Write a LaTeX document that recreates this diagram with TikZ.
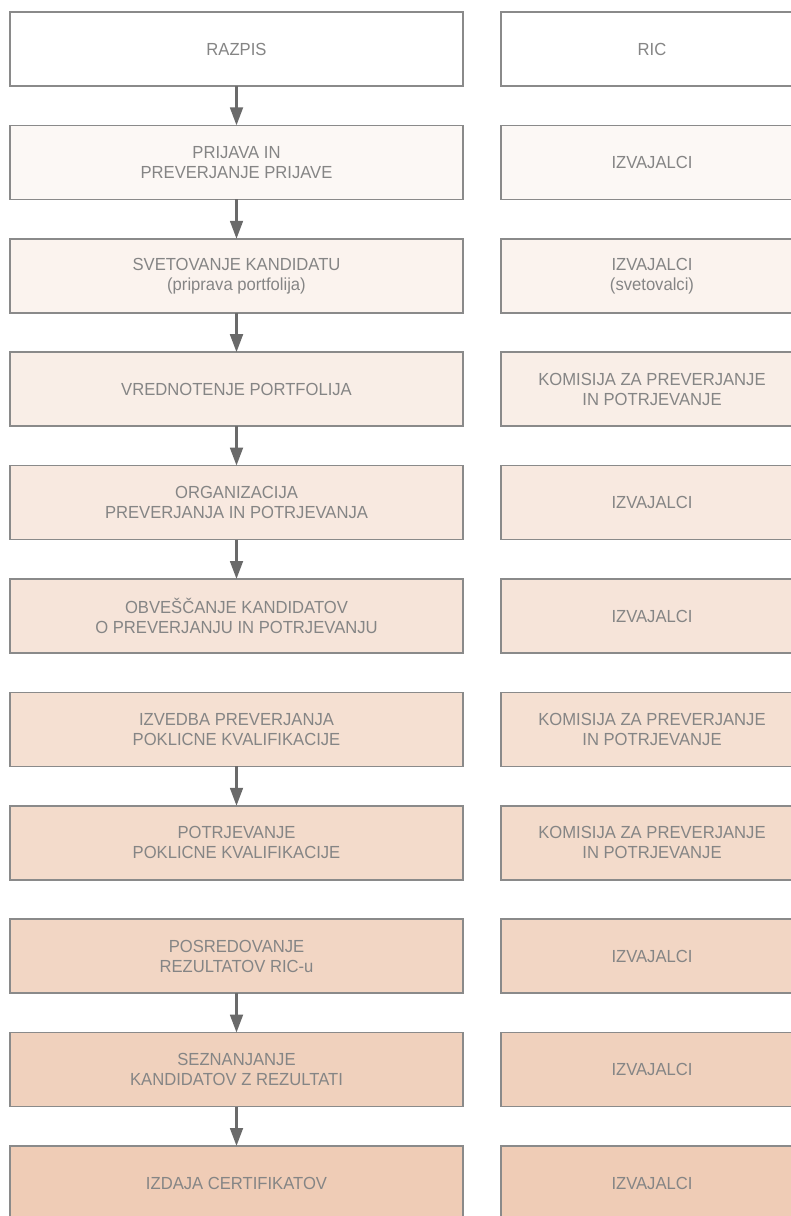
\documentclass[tikz,border=0pt]{standalone}
\usepackage{fontspec}
\setmainfont{Liberation Sans}[FakeStretch=0.95]
\usetikzlibrary{arrows.meta}
\definecolor{cA}{RGB}{252,248,245}
\definecolor{cB}{RGB}{239,204,182}
\definecolor{bord}{RGB}{138,138,138}
\definecolor{txt}{RGB}{133,133,133}
\definecolor{arr}{RGB}{106,106,106}
\tikzset{
  box/.style={draw=bord, line width=1.5pt, minimum height=74pt, inner sep=0pt, outer sep=0pt,
    align=center, text=txt, font=\fontsize{17.5}{20}\selectfont},
  lbox/.style={box, minimum width=453pt, fill=cB!#1!cA},
  rbox/.style={box, minimum width=302pt, fill=cB!#1!cA},
  flow/.style={draw=arr, line width=2.7pt, -{Triangle[width=12.7pt,length=18pt]}}
}
\begin{document}
\begin{tikzpicture}[x=1pt,y=-1pt]
\useasboundingbox (0,0) rectangle (791,1216);
\clip (0,0) rectangle (791,1216);
\node[box, minimum width=453pt, fill=white] (l1) at (236.5,49) {RAZPIS};
\node[box, minimum width=302pt, fill=white] (r1) at (652,49) {RIC};
\node[lbox=0] (l2) at (236.5,162.4) {PRIJAVA IN\\PREVERJANJE PRIJAVE};
\node[rbox=0] (r2) at (652,162.4) {IZVAJALCI};
\node[lbox=11.1] (l3) at (236.5,275.8) {SVETOVANJE KANDIDATU\\(priprava portfolija)};
\node[rbox=11.1] (r3) at (652,275.8) {IZVAJALCI\\(svetovalci)};
\node[lbox=22.2] (l4) at (236.5,389.2) {VREDNOTENJE PORTFOLIJA};
\node[rbox=22.2] (r4) at (652,389.2) {KOMISIJA ZA PREVERJANJE\\IN POTRJEVANJE};
\node[lbox=33.3] (l5) at (236.5,502.6) {ORGANIZACIJA\\PREVERJANJA IN POTRJEVANJA};
\node[rbox=33.3] (r5) at (652,502.6) {IZVAJALCI};
\node[lbox=44.4] (l6) at (236.5,616) {OBVEŠČANJE KANDIDATOV\\O PREVERJANJU IN POTRJEVANJU};
\node[rbox=44.4] (r6) at (652,616) {IZVAJALCI};
\node[lbox=55.6] (l7) at (236.5,729.4) {IZVEDBA PREVERJANJA\\POKLICNE KVALIFIKACIJE};
\node[rbox=55.6] (r7) at (652,729.4) {KOMISIJA ZA PREVERJANJE\\IN POTRJEVANJE};
\node[lbox=66.7] (l8) at (236.5,842.8) {POTRJEVANJE\\POKLICNE KVALIFIKACIJE};
\node[rbox=66.7] (r8) at (652,842.8) {KOMISIJA ZA PREVERJANJE\\IN POTRJEVANJE};
\node[lbox=77.8] (l9) at (236.5,956.2) {POSREDOVANJE\\REZULTATOV RIC-u};
\node[rbox=77.8] (r9) at (652,956.2) {IZVAJALCI};
\node[lbox=88.9] (l10) at (236.5,1069.6) {SEZNANJANJE\\KANDIDATOV Z REZULTATI};
\node[rbox=88.9] (r10) at (652,1069.6) {IZVAJALCI};
\node[lbox=100] (l11) at (236.5,1183) {IZDAJA CERTIFIKATOV};
\node[rbox=100] (r11) at (652,1183) {IZVAJALCI};
\draw[flow] (l1) -- (l2);
\draw[flow] (l2) -- (l3);
\draw[flow] (l3) -- (l4);
\draw[flow] (l4) -- (l5);
\draw[flow] (l5) -- (l6);
\draw[flow] (l7) -- (l8);
\draw[flow] (l9) -- (l10);
\draw[flow] (l10) -- (l11);
\end{tikzpicture}
\end{document}
